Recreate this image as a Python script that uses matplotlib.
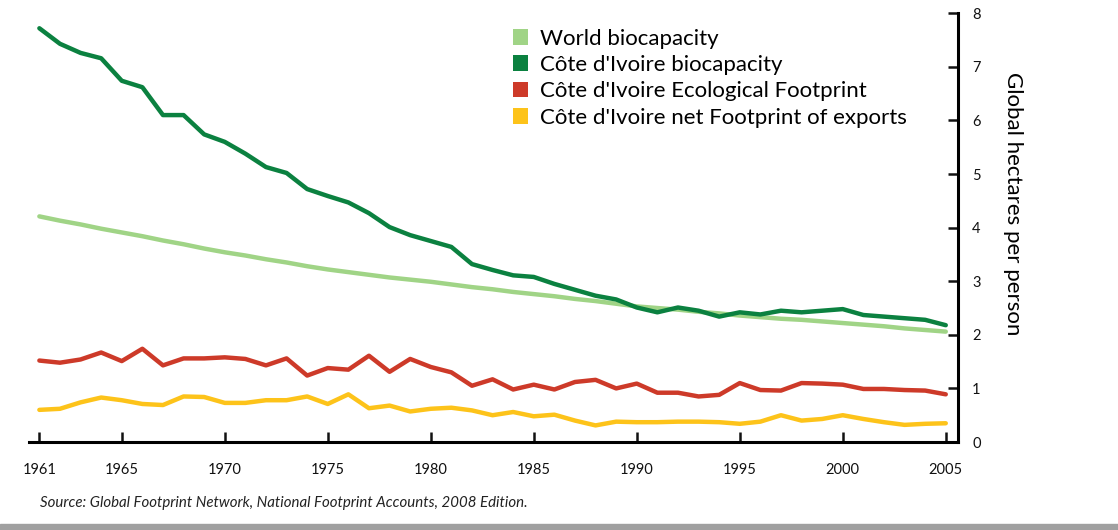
import matplotlib
matplotlib.use("Agg")
import matplotlib.pyplot as plt
from matplotlib.patches import Patch, Rectangle

years = list(range(1961, 2006))

world_biocap = [4.21, 4.13, 4.06, 3.98, 3.91, 3.84, 3.76, 3.69, 3.61, 3.54,
                3.48, 3.41, 3.35, 3.28, 3.22, 3.17, 3.12, 3.07, 3.03, 2.99,
                2.94, 2.89, 2.85, 2.80, 2.76, 2.72, 2.67, 2.63, 2.58, 2.53,
                2.50, 2.47, 2.43, 2.40, 2.36, 2.33, 2.30, 2.28, 2.25, 2.22,
                2.19, 2.16, 2.12, 2.09, 2.06]

civ_biocap = [7.72, 7.43, 7.26, 7.16, 6.74, 6.62, 6.10, 6.10, 5.74, 5.60,
              5.38, 5.13, 5.02, 4.72, 4.59, 4.47, 4.27, 4.01, 3.86, 3.75,
              3.64, 3.32, 3.21, 3.11, 3.08, 2.95, 2.84, 2.73, 2.66, 2.51,
              2.42, 2.51, 2.45, 2.34, 2.42, 2.38, 2.45, 2.42, 2.45, 2.48,
              2.37, 2.34, 2.31, 2.28, 2.18]

civ_footprint = [1.52, 1.48, 1.54, 1.67, 1.51, 1.74, 1.43, 1.56, 1.56, 1.58,
                 1.55, 1.43, 1.56, 1.24, 1.38, 1.35, 1.61, 1.31, 1.55, 1.40,
                 1.30, 1.05, 1.17, 0.98, 1.07, 0.98, 1.12, 1.16, 1.00, 1.09,
                 0.92, 0.92, 0.85, 0.88, 1.10, 0.97, 0.96, 1.10, 1.09, 1.07,
                 0.99, 0.99, 0.97, 0.96, 0.89]

civ_exports = [0.60, 0.62, 0.74, 0.83, 0.78, 0.71, 0.69, 0.85, 0.84, 0.73,
               0.73, 0.78, 0.78, 0.85, 0.71, 0.89, 0.63, 0.68, 0.57, 0.62,
               0.64, 0.59, 0.50, 0.56, 0.48, 0.51, 0.40, 0.31, 0.38, 0.37,
               0.37, 0.38, 0.38, 0.37, 0.34, 0.38, 0.50, 0.40, 0.43, 0.50,
               0.43, 0.37, 0.32, 0.34, 0.35]

labels = ["World biocapacity", "Côte d'Ivoire biocapacity",
          "Côte d'Ivoire Ecological Footprint", "Côte d'Ivoire net Footprint of exports"]
colors = ["#a0d486", "#0b8140", "#cd3a29", "#fdc31a"]
xticks = [1961, 1965, 1970, 1975, 1980, 1985, 1990, 1995, 2000, 2005]

plt.rcParams['font.family'] = ['Lato', 'DejaVu Sans']

fig = plt.figure(figsize=(11.18, 5.30), dpi=100)
ax = fig.add_axes([0.026, 0.166, 0.831, 0.809])

series = [world_biocap, civ_biocap, civ_footprint, civ_exports]
for vals, col in zip(series, colors):
    ax.plot(years, vals, color=col, lw=3.2, solid_capstyle='round', solid_joinstyle='round')

ax.set_xlim(1960.5, 2005.6)
ax.set_ylim(0, 8)

for s in ['left', 'top']:
    ax.spines[s].set_visible(False)
ax.spines['bottom'].set_linewidth(2.2)
ax.spines['right'].set_linewidth(2.2)

ax.yaxis.tick_right()
ax.yaxis.set_label_position('right')
ax.set_yticks(range(0, 9))
ax.set_xticks(xticks)
ax.tick_params(axis='both', direction='in', length=7, width=1.8, labelsize=10.5, colors='#111111')
ax.tick_params(axis='x', pad=15)
ax.tick_params(axis='y', pad=10)

ax.set_ylabel("Global hectares per person", rotation=-90, fontsize=16, labelpad=22)
ax.yaxis.set_label_coords(1.07, 0.555)

handles = [Patch(facecolor=c, edgecolor='none') for c in colors]
ax.legend(handles, labels, loc='upper left', bbox_to_anchor=(0.511, 0.985), frameon=False,
          fontsize=16, handlelength=0.7, handleheight=0.7, handletextpad=0.55,
          labelspacing=0.29, borderaxespad=0)

fig.text(0.036, 0.043, "Source: Global Footprint Network, National Footprint Accounts, 2008 Edition.",
         fontsize=10.8, style='italic', color='#222222')

fig.add_artist(Rectangle((0, 0), 1, 0.011, transform=fig.transFigure, color='#a0a0a0'))

fig.savefig("out.png", dpi=100)
